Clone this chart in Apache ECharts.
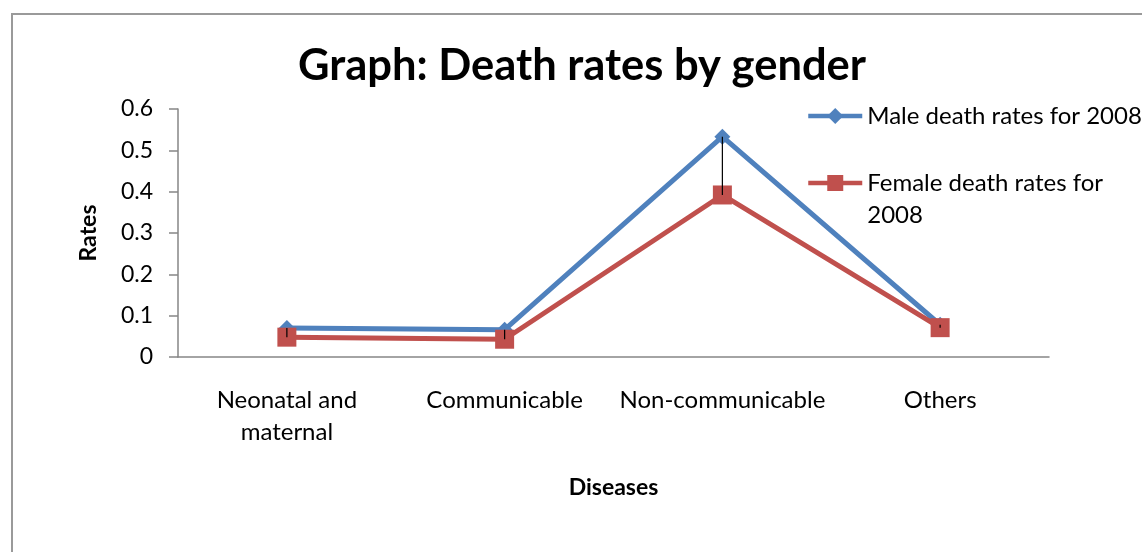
<!DOCTYPE html>
<html>
<head>
<meta charset="utf-8">
<script src="https://cdn.jsdelivr.net/npm/echarts@6/dist/echarts.min.js"></script>
<style>
html,body{margin:0;padding:0;background:#fff;}
#chart{width:1142px;height:552px;}
</style>
</head>
<body>
<div id="chart"></div>
<script>
const categories = ['Neonatal and maternal', 'Communicable', 'Non-communicable', 'Others'];
const maleRates = [0.070, 0.066, 0.533, 0.078];
const femaleRates = [0.048, 0.043, 0.392, 0.071];
const yTicks = { min: 0, max: 0.6, interval: 0.1 };
const maleName = 'Male death rates for 2008';
const femaleName = 'Female death rates for 2008';

const FONT = 'Lato';
const chart = echarts.init(document.getElementById('chart'));
chart.setOption({
  animation: false,
  backgroundColor: '#fff',
  textStyle: { fontFamily: FONT },
  title: {
    text: 'Graph: Death rates by gender',
    left: 298, top: 44,
    padding: 0,
    textStyle: { fontFamily: FONT, fontWeight: 'bold', fontSize: 43.5, color: '#000' }
  },
  graphic: [{
    type: 'rect', silent: true, z: -10,
    shape: { x: 12, y: 14, width: 1200, height: 600 },
    style: { fill: 'none', stroke: '#9a9a9a', lineWidth: 2 }
  }],
  legend: [{
    data: [maleName],
    orient: 'vertical',
    left: 806, top: 104,
    padding: 0,
    itemWidth: 54, itemHeight: 20, itemGap: 0,
    lineStyle: { width: 4.5 },
    textStyle: { fontFamily: FONT, fontSize: 24, color: '#000' },
    selectedMode: false
  }, {
    data: [femaleName],
    orient: 'vertical',
    left: 806, top: 135,
    padding: 0,
    itemWidth: 54, itemHeight: 20, itemGap: 0,
    lineStyle: { width: 4.5 },
    formatter: n => '\n' + n.replace('for 2008', 'for\n2008'),
    textStyle: { fontFamily: FONT, fontSize: 24, color: '#000', lineHeight: 32 },
    selectedMode: false
  }],
  grid: { left: 178, right: 93, top: 109, bottom: 195, containLabel: false },
  xAxis: {
    type: 'category',
    data: categories,
    boundaryGap: true,
    name: 'Diseases',
    nameLocation: 'middle',
    nameGap: 119,
    nameTextStyle: { fontFamily: FONT, fontWeight: 'bold', fontSize: 23, color: '#000' },
    axisLine: { lineStyle: { color: '#868686', width: 1.5 } },
    axisTick: { show: false },
    axisLabel: {
      interval: 0,
      fontFamily: FONT, fontSize: 24, color: '#000', margin: 27, lineHeight: 32,
      formatter: v => v.replace('Neonatal and ', 'Neonatal and\n')
    },
    splitLine: { show: false }
  },
  yAxis: {
    type: 'value',
    min: yTicks.min, max: yTicks.max, interval: yTicks.interval,
    name: 'Rates',
    nameLocation: 'middle',
    nameGap: 78,
    nameTextStyle: { fontFamily: FONT, fontWeight: 'bold', fontSize: 23, color: '#000' },
    axisLine: { show: true, lineStyle: { color: '#868686', width: 1.5 } },
    axisTick: { show: true, length: 9, lineStyle: { color: '#868686', width: 1.5 } },
    axisLabel: { fontFamily: FONT, fontSize: 23, color: '#000', margin: 25 },
    splitLine: { show: false }
  },
  series: [{
    name: maleName,
    type: 'line',
    data: maleRates,
    symbol: 'diamond', symbolSize: 16,
    lineStyle: { color: '#4F81BD', width: 5 },
    itemStyle: { color: '#4F81BD' },
    z: 2
  }, {
    name: femaleName,
    type: 'line',
    data: femaleRates,
    symbol: 'rect', symbolSize: 19,
    lineStyle: { color: '#C0504D', width: 5 },
    itemStyle: { color: '#C0504D' },
    z: 3
  }, {
    name: 'High-low',
    type: 'custom',
    z: 10,
    silent: true,
    data: categories.map((c, i) => [i, maleRates[i], femaleRates[i]]),
    encode: { x: 0, y: [1, 2] },
    renderItem: (params, api) => {
      const p1 = api.coord([api.value(0), api.value(1)]);
      const p2 = api.coord([api.value(0), api.value(2)]);
      return {
        type: 'line',
        shape: { x1: p1[0], y1: p1[1], x2: p2[0], y2: p2[1] },
        style: { stroke: '#000', lineWidth: 1.2 }
      };
    }
  }]
});
</script>
</body>
</html>
